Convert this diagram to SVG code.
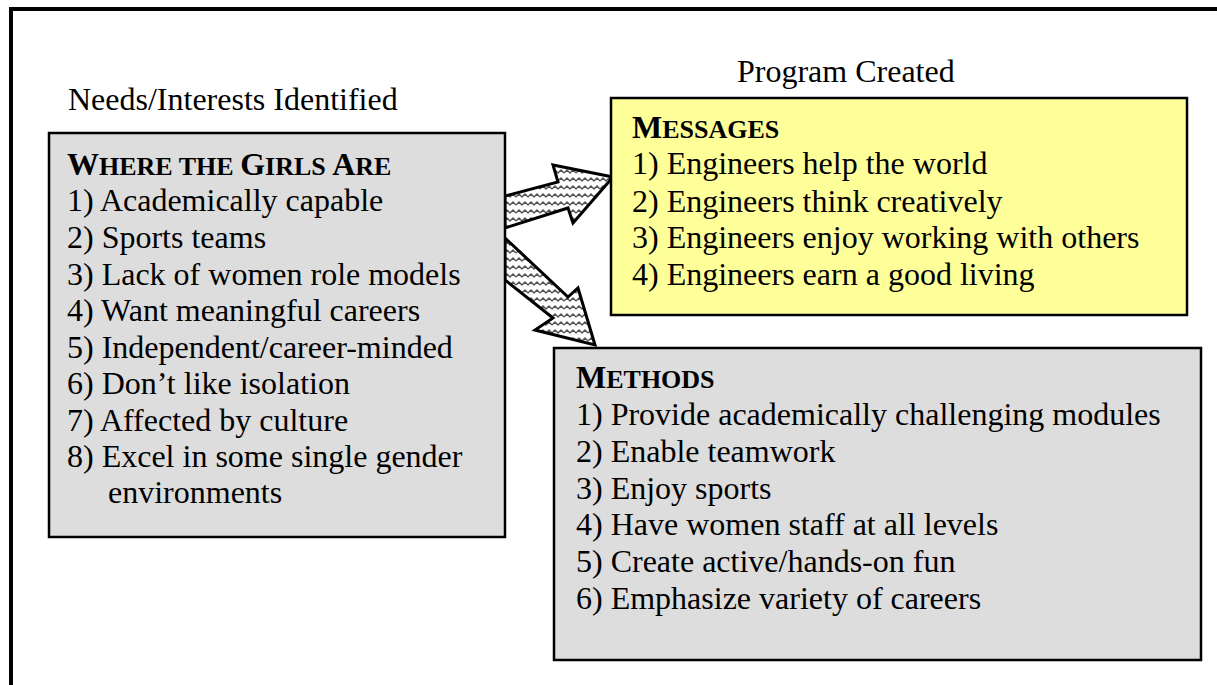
<svg xmlns="http://www.w3.org/2000/svg" width="1217" height="685" viewBox="0 0 1217 685">
  <style>
    text { font-family: "Liberation Serif", "Times New Roman", serif; fill: #000; }
    .item { font-size: 32px; }
    .label { font-size: 32px; }
    .head { font-size: 32px; font-weight: bold; }
    .sc { font-size: 26px; }
    .box { stroke: #000; stroke-width: 2.5; }
    .grey { fill: #dddddd; }
    .yellow { fill: #ffff99; }
    .arrow { fill: url(#wave); stroke: #000; stroke-width: 3; stroke-linejoin: miter; }
  </style>
  <defs>
    <pattern id="wave" patternUnits="userSpaceOnUse" width="12" height="8">
      <rect width="12" height="8" fill="#fff"/>
      <path d="M0,5 L3,2 L6,5 L9,2 L12,5" fill="none" stroke="#555" stroke-width="1.5"/>
    </pattern>
  </defs>

  <rect width="1217" height="685" fill="#fff"/>

  <!-- page frame (left and top edges) -->
  <path d="M11,685 V9 H1217" fill="none" stroke="#000" stroke-width="4"/>

  <text class="label" x="68" y="110">Needs/Interests Identified</text>
  <text class="label" x="737" y="82">Program Created</text>

  <!-- connectors -->
  <g id="connectors">
    <polygon class="arrow" points="505,196 558,182 553,165 613,177 573,223 568,208 505,228"/>
    <polygon class="arrow" points="505,238 568,297 578,288 595,345 535,330 553,318 505,280"/>
  </g>

  <g id="needs">
    <rect class="box grey" x="49" y="133" width="456" height="404"/>
    <text class="head" x="67" y="175">W<tspan class="sc">HERE THE </tspan>G<tspan class="sc">IRLS </tspan>A<tspan class="sc">RE</tspan></text>
    <text class="item" x="67" y="211">1) Academically capable</text>
    <text class="item" x="67" y="248">2) Sports teams</text>
    <text class="item" x="67" y="285">3) Lack of women role models</text>
    <text class="item" x="67" y="321">4) Want meaningful careers</text>
    <text class="item" x="67" y="358">5) Independent/career-minded</text>
    <text class="item" x="67" y="394">6) Don’t like isolation</text>
    <text class="item" x="67" y="431">7) Affected by culture</text>
    <text class="item" x="67" y="467">8) Excel in some single gender</text>
    <text class="item" x="108" y="503">environments</text>
  </g>

  <g id="messages">
    <rect class="box yellow" x="611" y="98" width="576" height="217"/>
    <text class="head" x="632" y="138">M<tspan class="sc">ESSAGES</tspan></text>
    <text class="item" x="632" y="174">1) Engineers help the world</text>
    <text class="item" x="632" y="212">2) Engineers think creatively</text>
    <text class="item" x="632" y="248">3) Engineers enjoy working with others</text>
    <text class="item" x="632" y="285">4) Engineers earn a good living</text>
  </g>

  <g id="methods">
    <rect class="box grey" x="554" y="348" width="647" height="312"/>
    <text class="head" x="576" y="388">M<tspan class="sc">ETHODS</tspan></text>
    <text class="item" x="576" y="425">1) Provide academically challenging modules</text>
    <text class="item" x="576" y="462">2) Enable teamwork</text>
    <text class="item" x="576" y="499">3) Enjoy sports</text>
    <text class="item" x="576" y="535">4) Have women staff at all levels</text>
    <text class="item" x="576" y="572">5) Create active/hands-on fun</text>
    <text class="item" x="576" y="609">6) Emphasize variety of careers</text>
  </g>
</svg>
